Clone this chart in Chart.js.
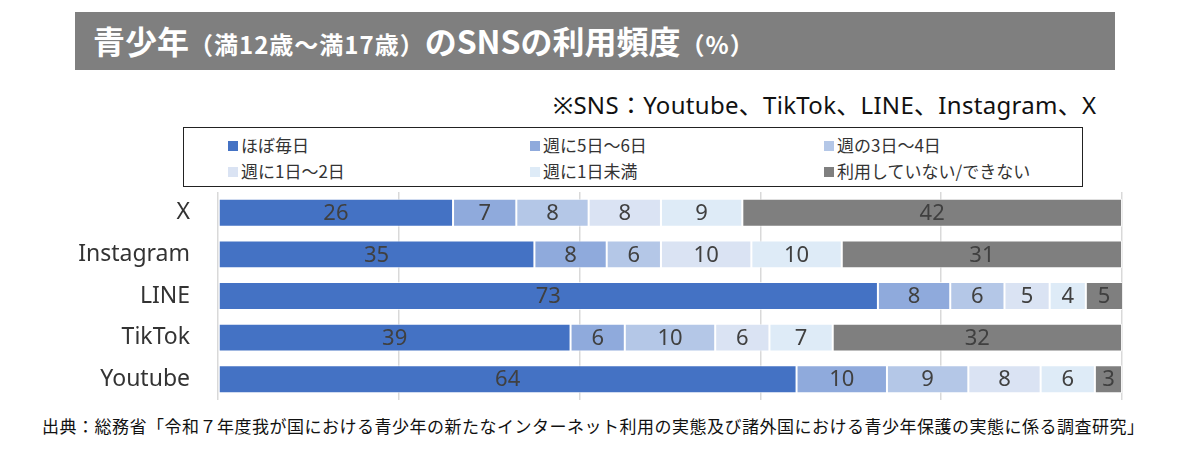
<!DOCTYPE html>
<html lang="ja">
<head>
<meta charset="utf-8">
<script src="https://cdn.jsdelivr.net/npm/chart.js@4"></script>
<style>
  body { margin: 0; background: #fff; font-family: "Noto Sans", "Noto Sans CJK JP", sans-serif; }
  #page { position: relative; width: 1200px; height: 457px; overflow: hidden; }
  #title { position: absolute; left: 75px; top: 12px; width: 1040px; height: 58px; background: #7f7f7f;
           color: #fff; font-family: "Noto Sans CJK JP", sans-serif; font-weight: bold; }
  #title span.big { font-size: 32px; }
  #title span.small { font-size: 24px; letter-spacing: 1px; }
  #title .inner { position: absolute; left: 18px; top: 5px; white-space: nowrap; }
  #note { position: absolute; left: 553px; top: 86px; font-size: 24px; letter-spacing: 0.3px; color: #111; white-space: nowrap; }
  #legend { position: absolute; left: 183px; top: 127px; width: 898px; height: 58px; border: 1.5px solid #222; }
  .item { position: absolute; font-size: 17px; color: #333; font-family: "Noto Sans CJK JP", sans-serif; white-space: nowrap; line-height: 20px; }
  .item i { display: inline-block; width: 10px; height: 10px; margin-right: 3px; vertical-align: 1px; }
  #wrap { position: absolute; left: 40px; top: 190px; width: 1090px; height: 210px; }
  #source { position: absolute; left: 42px; top: 413px; font-size: 17px; color: #111; white-space: nowrap;
            letter-spacing: 0.5px; font-family: "Noto Sans CJK JP", sans-serif; }
</style>
</head>
<body>
<div id="page">
  <div id="title"><div class="inner"><span class="big">青少年</span><span class="small">（満12歳～満17歳）</span><span class="big">のSNSの利用頻度</span><span class="small">（%）</span></div></div>
  <div id="note">※SNS：Youtube、TikTok、LINE、Instagram、X</div>
  <div id="legend"></div>
  <div id="wrap"><canvas id="snsChart" width="1090" height="210"></canvas></div>
  <div id="source">出典：総務省「令和７年度我が国における青少年の新たなインターネット利用の実態及び諸外国における青少年保護の実態に係る調査研究」</div>
</div>
<script>
const platforms = ['X', 'Instagram', 'LINE', 'TikTok', 'Youtube'];
const frequencyLabels = ['ほぼ毎日', '週に5日～6日', '週の3日～4日', '週に1日～2日', '週に1日未満', '利用していない/できない'];
const almostDaily = [26, 35, 73, 39, 64];
const fiveToSix = [7, 8, 8, 6, 10];
const threeToFour = [8, 6, 6, 10, 9];
const oneToTwo = [8, 10, 5, 6, 8];
const lessThanOne = [9, 10, 4, 7, 6];
const notUsing = [42, 31, 5, 32, 3];
const xTicks = [0, 20, 40, 60, 80, 100];

const colors = ['#4472C4', '#8FAADC', '#B4C7E7', '#DAE3F3', '#DEEBF7', '#7F7F7F'];
const seriesValues = [almostDaily, fiveToSix, threeToFour, oneToTwo, lessThanOne, notUsing];

// legend as a boxed 3-column grid
const legendEl = document.getElementById('legend');
const colX = [44, 346, 640];
const rowY = [7, 33];
frequencyLabels.forEach((label, i) => {
    const div = document.createElement('div');
    div.className = 'item';
    div.style.left = colX[i % 3] + 'px';
    div.style.top = rowY[Math.floor(i / 3)] + 'px';
    div.innerHTML = '<i style="background:' + colors[i] + '"></i>' + label;
    legendEl.appendChild(div);
});

// values written in the middle of each segment
const segmentLabels = {
    id: 'segmentLabels',
    afterDatasetsDraw(chart) {
        const ctx = chart.ctx;
        const area = chart.chartArea;
        ctx.save();
        ctx.font = '22px "Noto Sans", sans-serif';
        ctx.fillStyle = '#404040';
        ctx.textAlign = 'center';
        ctx.textBaseline = 'middle';
        chart.data.datasets.forEach((ds, di) => {
            chart.getDatasetMeta(di).data.forEach((bar, i) => {
                const v = ds.data[i];
                if (!v) return;
                const left = Math.min(bar.x, bar.base);
                const right = Math.min(Math.max(bar.x, bar.base), area.right);
                ctx.fillText(String(v), (left + right) / 2, bar.y + 1);
            });
        });
        ctx.restore();
    }
};

new Chart(document.getElementById('snsChart'), {
    type: 'bar',
    data: {
        labels: platforms,
        datasets: seriesValues.map((vals, i) => ({
            label: frequencyLabels[i],
            data: vals,
            backgroundColor: colors[i],
            borderColor: 'rgba(255,255,255,0.7)',
            borderWidth: 1,
            borderSkipped: false,
            barPercentage: 0.67,
            categoryPercentage: 1
        }))
    },
    options: {
        indexAxis: 'y',
        responsive: false,
        animation: false,
        layout: { padding: { top: 2, right: 8, bottom: 0, left: 0 } },
        plugins: {
            legend: { display: false },
            tooltip: { enabled: false }
        },
        scales: {
            x: {
                stacked: true,
                min: 0,
                max: 100,
                afterBuildTicks(scale) { scale.ticks = xTicks.map(v => ({ value: v })); },
                ticks: { display: false },
                grid: { color: '#d9d9d9', lineWidth: 1.5, drawTicks: false },
                border: { display: false }
            },
            y: {
                stacked: true,
                afterFit(scale) {
                    scale.width = 178;
                    scale.paddingTop = 0;
                    scale.paddingBottom = 0;
                },
                ticks: { color: '#333', font: { size: 23, family: '"Noto Sans", sans-serif' }, padding: 2 },
                grid: { drawOnChartArea: false, color: 'transparent', tickLength: 26 },
                border: { display: false }
            }
        }
    },
    plugins: [segmentLabels]
});
</script>
</body>
</html>
